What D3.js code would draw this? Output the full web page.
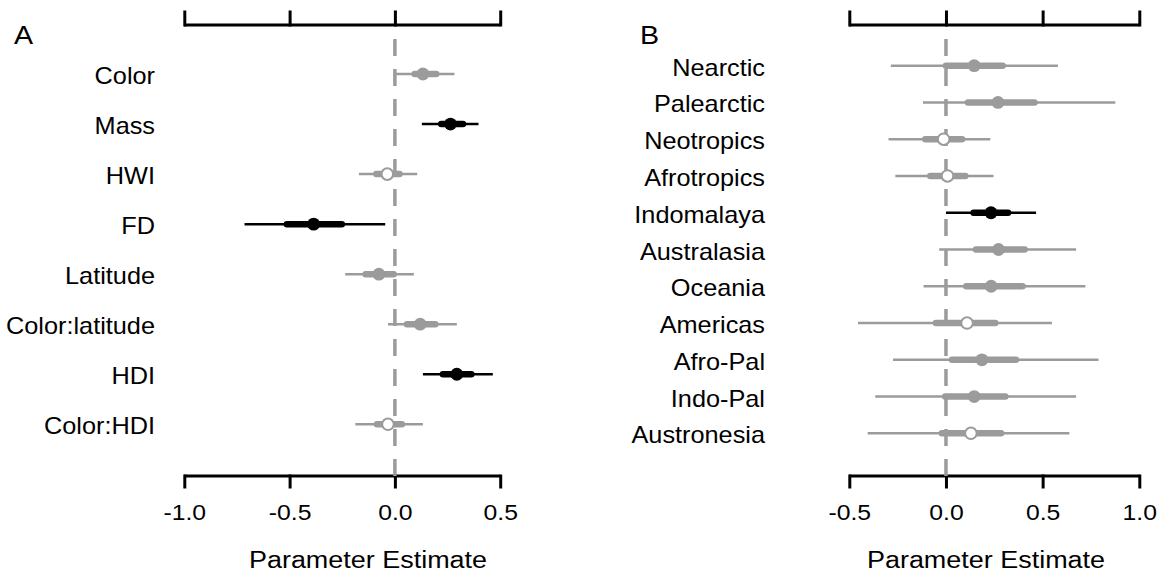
<!DOCTYPE html>
<html>
<head>
<meta charset="utf-8">
<script src="https://cdn.jsdelivr.net/npm/d3@7"></script>
<style>
  body { margin: 0; background: #fff; }
  text { font-family: "Liberation Sans", Arial, sans-serif; fill: #000; }
</style>
</head>
<body>
<div id="chart"></div>
<script>
// Panel A: trait model
var labelsA = ["Color", "Mass", "HWI", "FD", "Latitude", "Color:latitude", "HDI", "Color:HDI"];
var estA  = [0.133, 0.264, -0.036, -0.386, -0.076, 0.120, 0.294, -0.033];
var lo50A = [0.094, 0.220, -0.088, -0.513, -0.139, 0.057, 0.228, -0.085];
var hi50A = [0.196, 0.323, 0.022, -0.252, -0.006, 0.192, 0.363, 0.033];
var lo95A = [-0.005, 0.128, -0.171, -0.714, -0.236, -0.033, 0.133, -0.188];
var hi95A = [0.283, 0.397, 0.106, -0.046, 0.090, 0.294, 0.465, 0.133];
var kindA = ["gray", "black", "open", "black", "gray", "gray", "black", "open"];
var ticksA = [-1.0, -0.5, 0.0, 0.5];

// Panel B: biogeographic realms
var labelsB = ["Nearctic", "Palearctic", "Neotropics", "Afrotropics", "Indomalaya", "Australasia",
               "Oceania", "Americas", "Afro-Pal", "Indo-Pal", "Austronesia"];
var estB  = [0.146, 0.269, -0.012, 0.008, 0.233, 0.272, 0.234, 0.109, 0.186, 0.146, 0.129];
var lo50B = [0.000, 0.114, -0.107, -0.081, 0.143, 0.155, 0.105, -0.052, 0.031, -0.004, -0.021];
var hi50B = [0.293, 0.458, 0.083, 0.100, 0.321, 0.407, 0.396, 0.255, 0.362, 0.307, 0.285];
var lo95B = [-0.285, -0.119, -0.297, -0.262, 0.000, -0.035, -0.116, -0.455, -0.274, -0.366, -0.405];
var hi95B = [0.579, 0.876, 0.229, 0.246, 0.466, 0.673, 0.721, 0.548, 0.789, 0.673, 0.638];
var kindB = ["gray", "gray", "open", "open", "black", "gray", "gray", "open", "gray", "gray", "open"];
var ticksB = [-0.5, 0.0, 0.5, 1.0];

var W = 1162, H = 577;
var grey = "#9b9b9b";
var stretch = "scale(1.1,1)";

var svg = d3.select("#chart").append("svg")
    .attr("width", W).attr("height", H);
svg.append("rect").attr("width", W).attr("height", H).attr("fill", "#fff");

var makePanel = function(p) {
  var rows = p.labels.map(function(d, i) {
    return {label: d, est: p.est[i], lo50: p.lo50[i], hi50: p.hi50[i],
            lo95: p.lo95[i], hi95: p.hi95[i], kind: p.kind[i], i: i};
  });

  /***Scales***/
  var xScale = d3.scaleLinear().domain(p.xDom).range(p.xRange);
  var yScale = d3.scaleLinear().domain([0, rows.length - 1]).range(p.yRange);

  var g = svg.append("g");

  /***Axes, top and bottom***/
  var axTop = d3.axisTop(xScale).tickValues(p.ticks).tickSize(13).tickSizeOuter(0).tickFormat("");
  var axBot = d3.axisBottom(xScale).tickValues(p.ticks).tickSize(11).tickSizeOuter(0)
      .tickFormat(d3.format(".1f"));

  var top = g.append("g").attr("transform", "translate(0," + p.topY + ")").call(axTop);
  var bot = g.append("g").attr("transform", "translate(0," + p.botY + ")").call(axBot);
  [top, bot].forEach(function(a) {
    a.select(".domain").attr("stroke", "#000").attr("stroke-width", 3)
      .attr("d", "M" + xScale(p.ticks[0]) + ",0H" + xScale(p.ticks[p.ticks.length - 1]));
    a.selectAll(".tick line").attr("stroke", "#000").attr("stroke-width", 3)
      .attr("stroke-linecap", "square");
  });
  bot.selectAll(".tick text")
     .attr("y", 0).attr("dy", 0)
     .attr("transform", "translate(0,44) " + stretch)
     .style("font-size", "22.5px")
     .style("font-family", "'Liberation Sans', Arial, sans-serif")
     .text(function(d) { return d3.format(".1f")(d).replace("−", "-"); });

  /***Zero line***/
  g.append("line")
    .attr("x1", xScale(0)).attr("x2", xScale(0))
    .attr("y1", 39).attr("y2", p.botY)
    .attr("stroke", grey).attr("stroke-width", 3.5)
    .attr("stroke-dasharray", "17,13");

  /***Intervals***/
  var colorOf = function(d) { return d.kind === "black" ? "#000" : grey; };

  g.selectAll(".wide").data(rows).enter().append("line")
    .attr("class", "wide")
    .attr("x1", function(d) { return xScale(d.lo95); })
    .attr("x2", function(d) { return xScale(d.hi95); })
    .attr("y1", function(d) { return yScale(d.i); })
    .attr("y2", function(d) { return yScale(d.i); })
    .attr("stroke", colorOf).attr("stroke-width", 2.5);

  g.selectAll(".narrow").data(rows).enter().append("line")
    .attr("class", "narrow")
    .attr("x1", function(d) { return xScale(d.lo50); })
    .attr("x2", function(d) { return xScale(d.hi50); })
    .attr("y1", function(d) { return yScale(d.i); })
    .attr("y2", function(d) { return yScale(d.i); })
    .attr("stroke", colorOf).attr("stroke-width", 6.5)
    .attr("stroke-linecap", "round");

  g.selectAll(".pt").data(rows).enter().append("circle")
    .attr("class", "pt")
    .attr("cx", function(d) { return xScale(d.est); })
    .attr("cy", function(d) { return yScale(d.i); })
    .attr("r", function(d) { return d.kind === "open" ? 5.8 : 6.4; })
    .attr("fill", function(d) { return d.kind === "open" ? "#fff" : colorOf(d); })
    .attr("stroke", colorOf)
    .attr("stroke-width", function(d) { return d.kind === "open" ? 2 : 0; });

  /***Row labels***/
  g.selectAll(".lab").data(rows).enter().append("text")
    .attr("class", "lab")
    .attr("text-anchor", "end")
    .attr("transform", function(d) {
      return "translate(" + p.labelX + "," + (yScale(d.i) + 10) + ") " + stretch;
    })
    .style("font-size", "23px")
    .text(function(d) { return d.label; });

  /***Panel letter and axis title***/
  g.append("text")
    .attr("transform", "translate(" + p.letterX + ",44) " + stretch)
    .style("font-size", "26px")
    .text(p.letter);

  g.append("text")
    .attr("text-anchor", "middle")
    .attr("transform", "translate(" + p.titleX + ",568) " + stretch)
    .style("font-size", "24.5px")
    .text("Parameter Estimate");
};

makePanel({
  labels: labelsA, est: estA, lo50: lo50A, hi50: hi50A, lo95: lo95A, hi95: hi95A, kind: kindA,
  ticks: ticksA, xDom: [-1, 0.5], xRange: [184.3, 500.2], yRange: [74, 424.3],
  topY: 25, botY: 476, labelX: 155, letter: "A", letterX: 14, titleX: 368
});
makePanel({
  labels: labelsB, est: estB, lo50: lo50B, hi50: hi50B, lo95: lo95B, hi95: hi95B, kind: kindB,
  ticks: ticksB, xDom: [-0.5, 1.0], xRange: [849.3, 1139.3], yRange: [65.7, 433.3],
  topY: 25, botY: 476, labelX: 765, letter: "B", letterX: 640, titleX: 986
});
</script>
</body>
</html>
